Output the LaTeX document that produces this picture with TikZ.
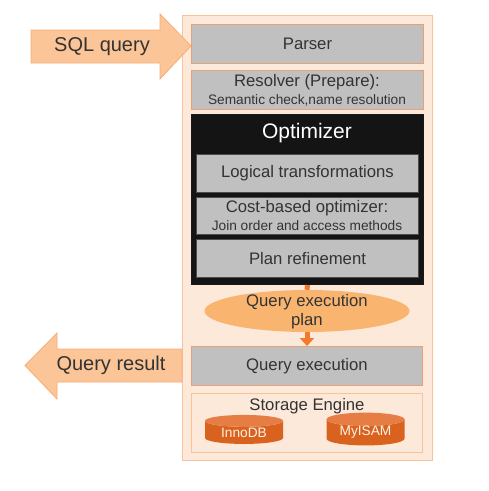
\documentclass[tikz,border=0pt]{standalone}
\usepackage{fontspec}
\setmainfont{Liberation Sans}
\usetikzlibrary{shapes.geometric,arrows.meta}
\definecolor{txt}{HTML}{333333}
\definecolor{peach}{HTML}{FBC597}
\definecolor{peachline}{HTML}{F6AE78}
\definecolor{outerfill}{HTML}{FDE9DA}
\definecolor{outerline}{HTML}{F8C29B}
\definecolor{boxgray}{HTML}{C0C0C0}
\definecolor{boxline}{HTML}{E3A27A}
\definecolor{ellfill}{HTML}{F9B56F}
\definecolor{conn}{HTML}{F27A2C}
\definecolor{cylbody}{HTML}{D9621F}
\definecolor{cyltop}{HTML}{E57D45}
\tikzset{
  graybox/.style={draw=boxline, line width=1pt, fill=boxgray, text=txt, inner sep=0pt, align=center, anchor=north west},
  darkbox/.style={draw=black!90, fill=black!92, line width=1pt, inner sep=0pt, anchor=north west},
  blockarrow/.style={fill=peach, draw=peachline, line width=0.8pt},
  db/.style={cylinder, shape border rotate=90, aspect=0.26, minimum width=78pt, minimum height=29pt, inner sep=0pt,
     cylinder uses custom fill, cylinder body fill=cylbody, cylinder end fill=cyltop, draw=none, text=white!90!orange, font=\fontsize{13.7}{15}\selectfont},
  big/.style={font=\fontsize{16.7}{19}\selectfont},
  small/.style={font=\fontsize{13.7}{15}\selectfont},
}
\begin{document}
\begin{tikzpicture}[x=1pt,y=-1pt]
\useasboundingbox[fill=white] (0,0) rectangle (489,491);
% outer container
\node[draw=outerline, fill=outerfill, line width=1.2pt, minimum width=250pt, minimum height=445pt, anchor=north west, inner sep=0pt] (outer) at (182,15) {};
% SQL query arrow
\draw[blockarrow] (31,30) -- (160,30) -- (160,14) -- (191,46) -- (160,79) -- (160,63) -- (31,63) -- cycle;
\node[text=txt, font=\fontsize{20}{22}\selectfont] (sql) at (102,46.5) {SQL query};
% Query result arrow
\draw[blockarrow] (182,349) -- (57,349) -- (57,333) -- (25,365.5) -- (57,399) -- (57,382) -- (182,382) -- cycle;
\node[text=txt, font=\fontsize{20}{22}\selectfont] (qres) at (111,365.5) {Query result};
% Parser
\node[graybox, big, minimum width=232pt, minimum height=39pt] (parser) at (191,24) {Parser};
% Resolver
\node[graybox, minimum width=232pt, minimum height=39pt] (resolver) at (191,70) {};
\node[big, text=txt] at (307,82) {Resolver (Prepare):};
\node[small, text=txt] at (307,100) {Semantic check,name resolution};
% Optimizer
\node[darkbox, minimum width=232pt, minimum height=170pt] (optimizer) at (191,114) {};
\node[text=white, font=\fontsize{21}{24}\selectfont] (opttitle) at (307,133) {Optimizer};
\node[graybox, big, draw=black!70, minimum width=222pt, minimum height=38pt] (logical) at (196,154) {Logical transformations};
\node[graybox, draw=black!70, minimum width=222pt, minimum height=37pt] (cost) at (196,197) {};
\node[big, text=txt] at (307,208) {Cost-based optimizer:};
\node[small, text=txt] at (307,226) {Join order and access methods};
\node[graybox, big, draw=black!70, minimum width=222pt, minimum height=38pt] (refine) at (196,239) {Plan refinement};
% Query execution plan ellipse
\node[ellipse, fill=ellfill, draw=none, minimum width=205pt, minimum height=42pt, inner sep=0pt] (plan) at (307,311) {};
\node[big, text=txt] at (307,302) {Query execution};
\node[big, text=txt] at (307,321.5) {plan};
\draw[conn, line width=5pt] (optimizer.south) -- (plan.north);
% Query execution
\node[graybox, big, minimum width=231pt, minimum height=39pt] (exec) at (191,346) {Query execution};
\draw[conn, line width=5pt, -{Triangle[width=14pt,length=8pt]}] (plan.south) -- (exec.north);
% Storage engine
\node[draw=outerline, line width=1pt, fill=outerfill, minimum width=231pt, minimum height=59pt, anchor=north west, inner sep=0pt] (storage) at (191,393) {};
\node[big, text=txt] (setitle) at (307,406) {Storage Engine};
\node[db] (innodb) at (244,432.5) {InnoDB};
\node[db] (myisam) at (365.5,432.5) {MyISAM};
\end{tikzpicture}
\end{document}
